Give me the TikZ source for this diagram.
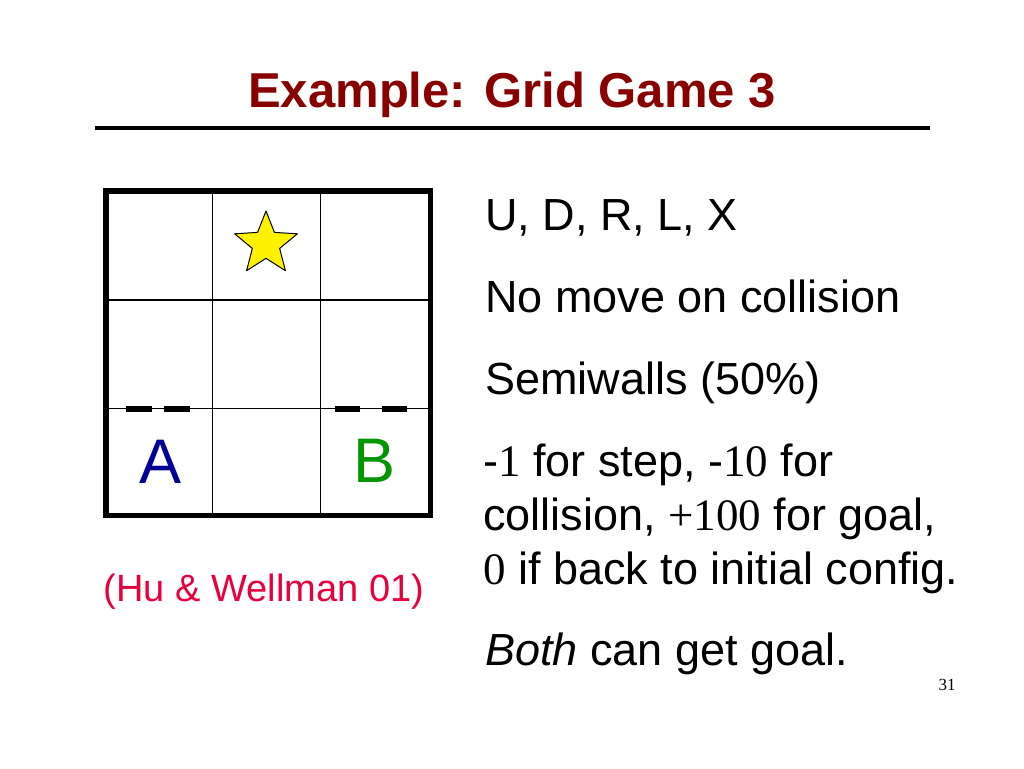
\documentclass[tikz,border=0pt]{standalone}
\usepackage{fontspec}
\setmainfont{Liberation Sans}
\newfontfamily\numfont{Liberation Serif}
\usetikzlibrary{shapes.geometric}
\definecolor{titlered}{RGB}{136,0,0}
\definecolor{citered}{RGB}{230,0,60}
\definecolor{agentblue}{RGB}{0,0,150}
\definecolor{agentgreen}{RGB}{0,150,0}

\begin{document}
\begin{tikzpicture}[line cap=round,line join=round,x=1pt,y=-1pt,
    bodytext/.style={anchor=base west,inner sep=0pt,font=\fontsize{45}{54}\selectfont},
    agent/.style={inner sep=0pt,font=\fontsize{63}{63}\selectfont},
    semiwall/.style={line width=6pt,line cap=butt}]
  \useasboundingbox[fill=white] (0,0) rectangle (1024,768);
  \node[anchor=base,inner sep=0pt,text=titlered,font=\fontsize{49}{58}\selectfont\bfseries] (title) at (512,107) {Example: Grid Game 3};
  \draw[line width=3.5pt,line cap=butt] (95,128) -- (930,128);
  % grid
  \foreach \x in {212.7,320.7}
  \draw[line width=1.5pt] (\x,191) -- (\x,515.5);
  \foreach \y in {300,408.7}
  \draw[line width=1.5pt] (106,\y) -- (430.5,\y);
  \draw[line width=5.5pt,line cap=butt,line join=miter] (106,191) rectangle (430.5,515.5);
  \draw[semiwall,dash pattern=on 26pt off 12pt] (126,408.7) -- (190,408.7);
  \draw[semiwall,dash pattern=on 25pt off 22pt] (335,408.7) -- (407,408.7);
  \node[star,star points=5,star point ratio=2.3,minimum size=66pt,inner sep=0pt,draw,fill=yellow,line width=1pt] (goal) at (266,244) {};
  \node[agent,text=agentblue] (agentA) at (161,462) {A};
  \node[agent,text=agentgreen] (agentB) at (375,461) {B};
  \node[anchor=base,inner sep=0pt,text=citered,font=\fontsize{38}{46}\selectfont] (cite) at (264,601) {(Hu \& Wellman 01)};
  % rules of the game
  \node[bodytext] (moves) at (485,230) {U, D, R, L, X};
  \node[bodytext] (collide) at (485,312) {No move on collision};
  \node[bodytext] (walls) at (485,394) {Semiwalls (50\%)};
  \node[bodytext] (reward1) at (483,476) {-{\numfont 1} for step, -{\numfont 10} for};
  \node[bodytext] (reward2) at (483,530) {collision, {\numfont +100} for goal,};
  \node[bodytext] (reward3) at (483,584) {{\numfont 0} if back to initial config.};
  \node[bodytext] (both) at (485,665) {\textit{Both} can get goal.};
  \node[inner sep=0pt,font=\numfont\fontsize{17}{20}\selectfont] (pagenum) at (947,685) {31};
\end{tikzpicture}
\end{document}
